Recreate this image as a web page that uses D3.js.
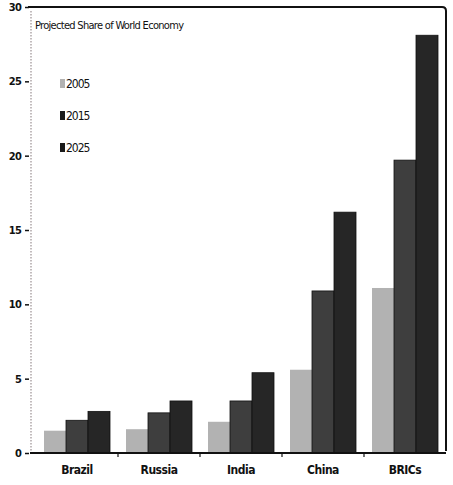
<!DOCTYPE html>
<html>
<head>
<meta charset="utf-8">
<script src="https://cdn.jsdelivr.net/npm/d3@7"></script>
<style>
  html, body { margin: 0; padding: 0; background: #fff; }
  svg { display: block; }
  text { font-family: "Liberation Sans Narrow", "DejaVu Sans Condensed", "Liberation Sans", sans-serif; fill: #111; }
</style>
</head>
<body>
<svg id="chart" width="453" height="485"></svg>
<script>
// Projected share of world economy (%) by country group
const categories = ["Brazil", "Russia", "India", "China", "BRICs"];
const years = ["2005", "2015", "2025"];
const share2005 = [1.5, 1.6, 2.1, 5.6, 11.1];
const share2015 = [2.2, 2.7, 3.5, 10.9, 19.7];
const share2025 = [2.8, 3.5, 5.4, 16.2, 28.1];
const yTicks = [0, 5, 10, 15, 20, 25, 30];
const colors = ["#b2b2b2", "#3e3e3e", "#262626"];

const seriesValues = [share2005, share2015, share2025];

const svg = d3.select("#chart");

const plotLeft = 31, plotRight = 446, plotTop = 7, plotBottom = 453;

const x = d3.scaleBand().domain(categories).range([36, 446]).paddingInner(0).paddingOuter(0);
const xs = d3.scaleBand().domain(years).range([8, x.bandwidth() - 8]).padding(0);
const y = d3.scaleLinear().domain([0, 30]).range([plotBottom, plotTop]);

// Frame: top edge and right edge with a rounded corner
svg.append("path")
  .attr("d", `M${plotLeft - 3},${plotTop} L${plotRight - 4},${plotTop} Q${plotRight},${plotTop} ${plotRight},${plotTop + 4} L${plotRight},${plotBottom - 2}`)
  .attr("fill", "none").attr("stroke", "#111").attr("stroke-width", 2);

// Left axis line (dotted)
svg.append("line")
  .attr("x1", plotLeft).attr("x2", plotLeft).attr("y1", plotTop + 4).attr("y2", plotBottom)
  .attr("stroke", "#9a8f92").attr("stroke-width", 1.2).attr("stroke-dasharray", "1.5,1.5");

// Bars
const groups = svg.append("g").selectAll("g")
  .data(categories)
  .join("g")
  .attr("transform", d => `translate(${x(d)},0)`);

groups.selectAll("rect")
  .data((d, i) => years.map((yr, k) => ({ yr, k, v: seriesValues[k][i] })))
  .join("rect")
  .attr("x", d => xs(d.yr))
  .attr("width", xs.bandwidth())
  .attr("y", d => y(d.v))
  .attr("height", d => y(0) - y(d.v))
  .attr("fill", d => colors[d.k])
  .attr("stroke", d => d.k === 0 ? "none" : "#111")
  .attr("stroke-width", 0.8);

// Bottom axis
const xAxis = d3.axisBottom(x).tickSize(0).tickPadding(12);
const gx = svg.append("g").attr("transform", `translate(0,${plotBottom})`).call(xAxis);
gx.select(".domain").remove();
gx.selectAll("text").attr("font-size", 12).attr("font-weight", "bold").attr("fill", "#111")
  .attr("letter-spacing", -0.5);
svg.append("line").attr("x1", plotLeft - 1).attr("x2", plotRight).attr("y1", plotBottom).attr("y2", plotBottom)
  .attr("stroke", "#111").attr("stroke-width", 2.2);
// Category separators
svg.append("g").selectAll("line")
  .data(categories.slice(1))
  .join("line")
  .attr("x1", d => x(d)).attr("x2", d => x(d))
  .attr("y1", plotBottom).attr("y2", plotBottom + 4)
  .attr("stroke", "#111").attr("stroke-width", 1.2);

// Left axis
const yAxis = d3.axisLeft(y).tickValues(yTicks).tickSize(4).tickPadding(4);
const gy = svg.append("g").attr("transform", `translate(${plotLeft - 2},0)`).call(yAxis);
gy.select(".domain").remove();
gy.selectAll(".tick line").attr("stroke", "#111").attr("stroke-width", 1.5);
gy.selectAll("text").attr("font-size", 11).attr("font-weight", "bold").attr("fill", "#111")
  .attr("letter-spacing", -0.8);

// Title
svg.append("text")
  .attr("x", 35).attr("y", 29)
  .attr("font-size", 11)
  .attr("letter-spacing", -0.7)
  .text("Projected Share of World Economy");

// Legend
const legend = svg.append("g").selectAll("g")
  .data(years)
  .join("g")
  .attr("transform", (d, i) => `translate(60,${84 + i * 32})`);
legend.append("rect")
  .attr("x", 0).attr("y", -5).attr("width", 5).attr("height", 9)
  .attr("fill", (d, i) => i === 0 ? colors[0] : "#1a1a1a");
legend.append("text")
  .attr("x", 6).attr("y", 4)
  .attr("font-size", 12)
  .attr("letter-spacing", -1)
  .text(d => d);
</script>
</body>
</html>
